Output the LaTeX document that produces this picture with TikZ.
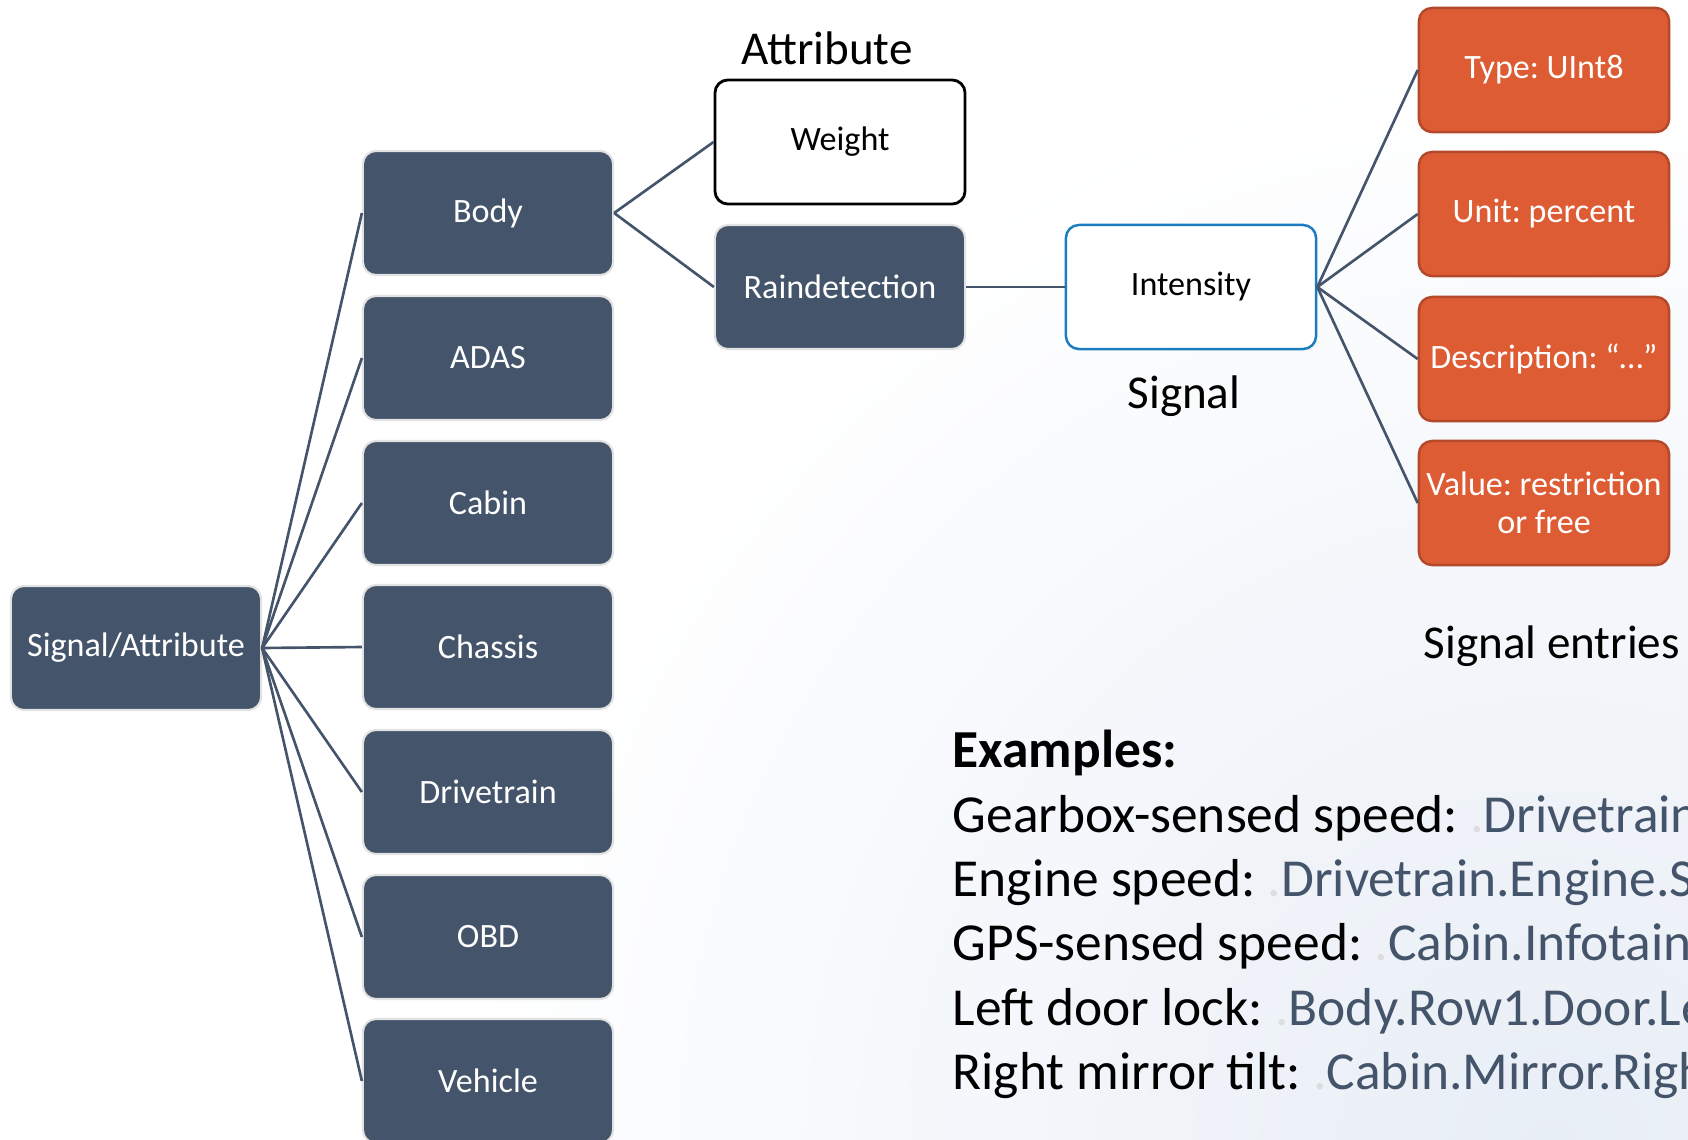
\documentclass[tikz,border=0pt]{standalone}
\usepackage{fontspec}
\usepackage{xcolor}
\setmainfont{Carlito}
\frenchspacing

\definecolor{slate}{HTML}{44546A}
\definecolor{slateedge}{HTML}{E2E2E2}
\definecolor{signalblue}{HTML}{1C7CC0}
\definecolor{entryorange}{HTML}{DD5C33}
\definecolor{entryedge}{HTML}{B3482A}
\definecolor{haze}{HTML}{E8EEF6}
\definecolor{dotgray}{HTML}{DDDDDD}

\newcommand{\boxfont}{\fontsize{9.7}{10.8}\selectfont}
\newcommand{\labelfont}{\fontsize{13.4}{15}\selectfont}
\newcommand{\examplefont}{\fontsize{15.2}{18}\selectfont}
\newcommand{\vsspath}[1]{{\color{dotgray}.}\textcolor{slate}{#1}}

\tikzset{
  box/.style={rounded corners=0.13cm, minimum width=2.5cm, minimum height=1.24cm,
    inner sep=0pt, align=center, font=\boxfont},
  slatebox/.style={box, fill=slate, draw=slateedge, line width=0.6pt, text=white},
  plainbox/.style={box, fill=white, draw=black, line width=0.8pt},
  signalbox/.style={box, fill=white, draw=signalblue, line width=0.7pt},
  entrybox/.style={box, fill=entryorange, draw=entryedge, line width=0.7pt, text=white},
  link/.style={draw=slate, line width=0.75pt},
  caption/.style={inner sep=0pt, font=\labelfont},
  exline/.style={inner sep=0pt, anchor=base west, font=\examplefont}
}

\begin{document}
\begin{tikzpicture}[x=0.01cm,y=-0.01cm]
  \useasboundingbox (0,0) rectangle (1688,1139);
  \shade[inner color=haze, outer color=white] (450,50) rectangle (2650,2250);

  \node[slatebox] (sa) at (136,648) {Signal/Attribute};

  \node[slatebox] (body)    at (488,213)  {Body};
  \node[slatebox] (adas)    at (488,358)  {ADAS};
  \node[slatebox] (cabin)   at (488,503)  {Cabin};
  \node[slatebox] (chassis) at (488,647)  {Chassis};
  \node[slatebox] (drive)   at (488,792)  {Drivetrain};
  \node[slatebox] (obd)     at (488,937)  {OBD};
  \node[slatebox] (vehicle) at (488,1081) {Vehicle};

  \node[plainbox] (weight) at (840,142) {Weight};
  \node[slatebox] (rain)   at (840,287) {Raindetection};
  \node[signalbox] (intensity) at (1191,287) {Intensity};

  \node[entrybox] (type)  at (1544,70)  {Type: UInt8};
  \node[entrybox] (unit)  at (1544,214) {Unit: percent};
  \node[entrybox] (descr) at (1544,359) {Description: “…”};
  \node[entrybox] (value) at (1544,503) {Value: restriction\\or free};

  \node[caption] (attrlabel)  at (827,48)  {Attribute};
  \node[caption] (siglabel)   at (1184,396) {Signal};
  \node[caption, anchor=west] (entrylabel) at (1423,646) {Signal entries};

  \foreach \n in {body,adas,cabin,chassis,drive,obd,vehicle}
    \draw[link] (sa.east) -- (\n.west);
  \draw[link] (body.east) -- (weight.west);
  \draw[link] (body.east) -- (rain.west);
  \draw[link] (rain.east) -- (intensity.west);
  \foreach \n in {type,unit,descr,value}
    \draw[link] (intensity.east) -- (\n.west);

  \node[exline] (ex0) at (952,767)  {\textbf{Examples:}};
  \node[exline] (ex1) at (952,832)  {Gearbox-sensed speed:\ \vsspath{Drivetrain}};
  \node[exline] (ex2) at (952,896)  {Engine speed:\ \vsspath{Drivetrain.Engine.S}};
  \node[exline] (ex3) at (952,960)  {GPS-sensed speed:\ \vsspath{Cabin.Infotain}};
  \node[exline] (ex4) at (952,1025) {Left door lock:\ \vsspath{Body.Row1.Door.Le}};
  \node[exline] (ex5) at (952,1089) {Right mirror tilt:\ \vsspath{Cabin.Mirror.Righ}};
\end{tikzpicture}
\end{document}
